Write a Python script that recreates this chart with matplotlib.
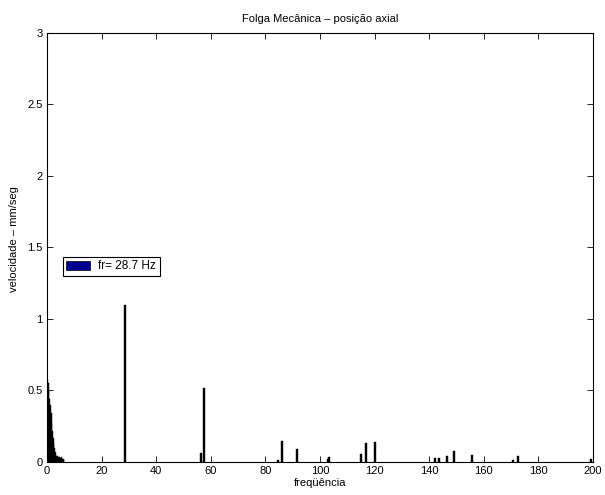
import matplotlib
matplotlib.use("Agg")
import matplotlib.pyplot as plt
from matplotlib.patches import Patch

plt.rcParams['font.family'] = ['Liberation Sans', 'DejaVu Sans']

# Low-frequency content (0.25 Hz resolution)
low_freqs = [0.25, 0.5, 0.75, 1.0, 1.25, 1.5, 1.75, 2.0, 2.25, 2.5, 2.75, 3.0,
             3.25, 3.5, 3.75, 4.0, 4.25, 4.5, 4.75, 5.0, 5.25, 5.5, 5.75, 6.0, 6.25]
low_amps = [0.57, 0.55, 0.50, 0.44, 0.40, 0.34, 0.27, 0.22, 0.17, 0.13, 0.10, 0.07,
            0.05, 0.045, 0.04, 0.035, 0.035, 0.035, 0.03, 0.03, 0.035, 0.03, 0.02, 0.02, 0.015]

# Discrete spectral peaks
peak_freqs = [28.7, 56.5, 57.4, 84.5, 86.2, 91.5, 102.8, 103.4, 114.9, 116.7, 120.3,
              142.0, 143.7, 146.6, 149.1, 155.7, 170.8, 172.5, 199.4]
peak_amps = [1.10, 0.06, 0.52, 0.015, 0.15, 0.09, 0.02, 0.035, 0.055, 0.13, 0.14,
             0.03, 0.03, 0.04, 0.075, 0.05, 0.015, 0.04, 0.02]

x_ticks = [0, 20, 40, 60, 80, 100, 120, 140, 160, 180, 200]
y_ticks = [0, 0.5, 1, 1.5, 2, 2.5, 3]
y_tick_labels = ['0', '0.5', '1', '1.5', '2', '2.5', '3']

title = 'Folga Mecânica \u2013 posição axial'
x_label = 'freqüência'
y_label = 'velocidade \u2013 mm/seg'
legend_label = 'fr= 28.7 Hz'

fig = plt.figure(figsize=(6.05, 4.95), dpi=100)
ax = fig.add_axes([0.0777, 0.0667, 0.9025, 0.8667])

ax.bar(low_freqs, low_amps, width=0.3, color='black', edgecolor='black', linewidth=0.3)
ax.bar(peak_freqs, peak_amps, width=0.7, color='black', edgecolor='black', linewidth=0.3)

ax.set_xlim(0, 200)
ax.set_ylim(0, 3)
ax.set_xticks(x_ticks)
ax.set_yticks(y_ticks)
ax.set_yticklabels(y_tick_labels)
ax.tick_params(direction='in', length=4, width=0.6, top=True, right=True,
               labelsize=8, pad=3)
for s in ax.spines.values():
    s.set_linewidth(0.8)

ax.set_title(title, fontsize=8, pad=8)
ax.set_xlabel(x_label, fontsize=8, labelpad=1)
ax.set_ylabel(y_label, fontsize=8, labelpad=6)
ax.yaxis.set_label_coords(-0.052, 0.52)

handle = Patch(facecolor='#00008f', edgecolor='black', linewidth=0.5)
leg = ax.legend([handle], [legend_label], loc='upper left',
                bbox_to_anchor=(0.029, 0.478), fontsize=8.5, frameon=True,
                fancybox=False, framealpha=1, edgecolor='black',
                handlelength=2.0, handleheight=0.85, borderpad=0.3,
                handletextpad=0.7, borderaxespad=0)
leg.get_frame().set_linewidth(0.8)

fig.savefig('out.png', dpi=100)
